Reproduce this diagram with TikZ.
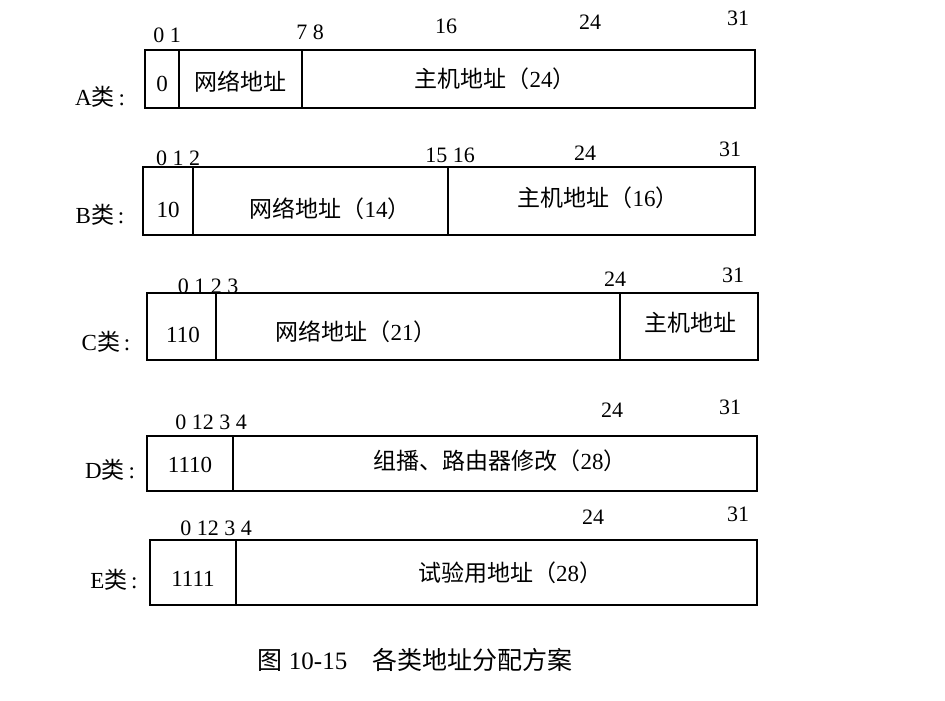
\documentclass[tikz,border=0pt]{standalone}
\usepackage{fontspec}
\setmainfont{Liberation Serif}
\newfontfamily\cjk{Noto Sans CJK SC}
\begin{document}
\begin{tikzpicture}[x=1pt,y=-1pt,
  fld/.style={draw,line width=1.2pt},
  txt/.style={font=\fontsize{23}{26}\selectfont,inner sep=0pt},
  bit/.style={font=\fontsize{22}{24}\selectfont,inner sep=0pt}]
\useasboundingbox[fill=white] (0,0) rectangle (945,701);
% A
\draw[fld] (145,50) rectangle (755,108);
\draw[fld] (179,50)--(179,108) (302,50)--(302,108);
\node[txt] (a0) at (162,84) {0};
\node[txt] (a1) at (240,82) {\cjk 网络地址};
\node[txt] (a2) at (495,79) {{\cjk 主机地址（}24{\cjk ）}};
\node[txt] (al) at (100,97) {A{\cjk 类}\,:};
\node[bit] at (167,35) {0 1};
\node[bit] at (310,32) {7 8};
\node[bit] at (446,26) {16};
\node[bit] at (590,22) {24};
\node[bit] at (738,18) {31};
% B
\draw[fld] (143,167) rectangle (755,235);
\draw[fld] (193,167)--(193,235) (448,167)--(448,235);
\node[txt] (b0) at (168,210) {10};
\node[txt] (b1) at (330,209) {{\cjk 网络地址（}14{\cjk ）}};
\node[txt] (b2) at (598,198) {{\cjk 主机地址（}16{\cjk ）}};
\node[txt] (bl) at (100,215) {B{\cjk 类}\,:};
\node[bit] at (178,158) {0 1 2};
\node[bit] at (450,155) {15 16};
\node[bit] at (585,153) {24};
\node[bit] at (730,149) {31};
% C
\draw[fld] (147,293) rectangle (758,360);
\draw[fld] (216,293)--(216,360) (620,293)--(620,360);
\node[txt] (c0) at (183,335) {110};
\node[txt] (c1) at (356,332) {{\cjk 网络地址（}21{\cjk ）}};
\node[txt] (c2) at (690,323) {\cjk 主机地址};
\node[txt] (cl) at (106,342) {C{\cjk 类}\,:};
\node[bit] at (208,286) {0 1 2 3};
\node[bit] at (615,279) {24};
\node[bit] at (733,275) {31};
% D
\draw[fld] (147,436) rectangle (757,491);
\draw[fld] (233,436)--(233,491);
\node[txt] (d0) at (190,465) {1110};
\node[txt] (d1) at (500,461) {{\cjk 组播、路由器修改（}28{\cjk ）}};
\node[txt] (dl) at (110,470) {D{\cjk 类}\,:};
\node[bit] at (211,422) {0 12 3 4};
\node[bit] at (612,410) {24};
\node[bit] at (730,407) {31};
% E
\draw[fld] (150,540) rectangle (757,605);
\draw[fld] (236,540)--(236,605);
\node[txt] (e0) at (193,579) {1111};
\node[txt] (e1) at (510,573) {{\cjk 试验用地址（}28{\cjk ）}};
\node[txt] (el) at (114,580) {E{\cjk 类}\,:};
\node[bit] at (216,528) {0 12 3 4};
\node[bit] at (593,517) {24};
\node[bit] at (738,514) {31};
% caption
\node[txt,font=\fontsize{25}{28}\selectfont] (cap) at (415,660) {{\cjk 图} 10-15\quad{\cjk 各类地址分配方案}};
\end{tikzpicture}
\end{document}
